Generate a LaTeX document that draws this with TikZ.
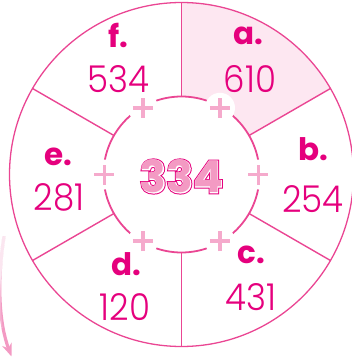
\documentclass[tikz,border=0pt]{standalone}
\usepackage{fontspec}
\setmainfont{Poppins}
\IfFontExistsTF{Poppins Light}
  {\newfontfamily\numfont{Poppins Light}}
  {\newfontfamily\numfont{Poppins}}
\newfontfamily\sumouter{Poppins}[BoldFeatures={FakeBold=7}]
\newfontfamily\suminner{Poppins}[BoldFeatures={FakeBold=2.5}]
\usetikzlibrary{arrows.meta}

\definecolor{ringpink}{HTML}{EA4693}
\definecolor{textpink}{HTML}{E5007D}
\definecolor{pluspink}{HTML}{F5AACC}
\definecolor{sectorpink}{HTML}{FDE7F1}
\definecolor{sumpink}{HTML}{F39AC3}

\tikzset{
  ring/.style={draw=ringpink, line width=1.3pt},
  spoke/.style={draw=ringpink, line width=1.4pt},
  letter/.style={text=textpink, anchor=base, inner sep=0pt, font=\fontsize{31}{31}\selectfont\bfseries},
  number/.style={text=textpink, anchor=base, inner sep=0pt, xscale=0.92, font=\numfont\fontsize{37}{37}\selectfont},
  plussign/.style={draw=pluspink, line width=3.5pt},
  sumtext/.style={inner sep=0pt, font=\fontsize{44}{44}\selectfont\bfseries},
}

\begin{document}
\begin{tikzpicture}[x=1pt,y=1pt]
\useasboundingbox (-181.5,-187.5) rectangle (170.5,174.5);

% shaded sector a
\fill[sectorpink] (30:78) arc (30:90:78) -- (90:172) arc (90:30:172) -- cycle;

% rings and spokes
\draw[ring] (0,0) circle (172);
\draw[ring, line width=1.8pt] (0,0) circle (78);
\foreach \a in {30,90,...,330}
  \draw[spoke] (\a:78) -- (\a:172);

% plus signs on white bubbles
\foreach \a in {0,60,...,300} {
  \fill[white] (\a:77) circle (15);
  \draw[plussign] (\a:77) ++(-10,0) -- ++(20,0);
  \draw[plussign] (\a:77) ++(0,-10) -- ++(0,20);
}

% sector labels
\node[letter] (la) at (66.5,129.5) {a.};
\node[number] (na) at (68.5,82.5) {610};
\node[letter] (lb) at (131.5,14.5) {b.};
\node[number] (nb) at (131.5,-37.5) {254};
\node[letter] (lc) at (69.5,-88.5) {c.};
\node[number] (nc) at (69.5,-135.5) {431};
\node[letter] (ld) at (-55.5,-100.5) {d.};
\node[number] (nd) at (-56.5,-145.5) {120};
\node[letter] (le) at (-123.5,9.5) {e.};
\node[number] (ne) at (-122.5,-35.5) {281};
\node[letter] (lf) at (-63.5,127.5) {f.};
\node[number] (nf) at (-63.5,82.5) {534};

% centre number, outlined
\node[sumtext, text=textpink, font=\sumouter\fontsize{44}{44}\selectfont\bfseries] (total) at (0,-2) {334};
\node[sumtext, text=white, font=\suminner\fontsize{44}{44}\selectfont\bfseries] (totalgap) at (total) {334};
\node[sumtext, text=sumpink] (totalfill) at (total) {334};

% arrow at the left, fading out towards its top
\coordinate (arrowtop) at (-177.5,-62);
\coordinate (arrowtip) at (-170,-182);
\draw[sumpink, line width=3.2pt, -{Stealth[length=13pt,width=10pt]}]
  (arrowtop) .. controls (-185,-110) and (-182,-150) .. (arrowtip);
\foreach \s in {30,45,60,75,90,105}
  \draw[white, opacity=0.22, line width=3.9pt, shorten >=\s pt]
    (arrowtop) .. controls (-185,-110) and (-182,-150) .. (arrowtip);

\end{tikzpicture}
\end{document}
